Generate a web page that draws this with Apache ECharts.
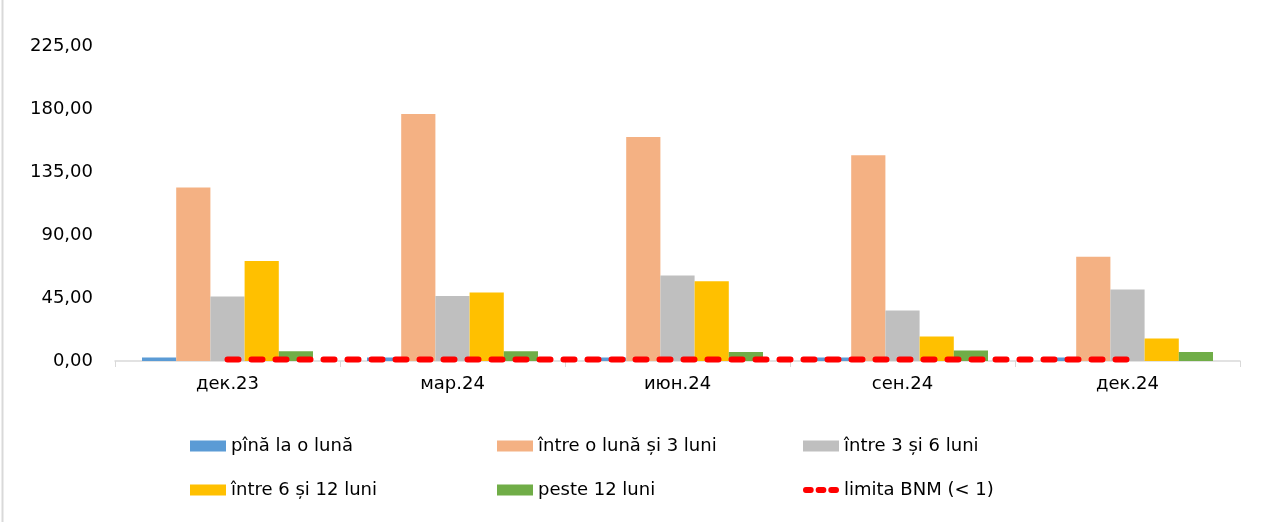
<!DOCTYPE html>
<html>
<head>
<meta charset="utf-8">
<script src="https://cdn.jsdelivr.net/npm/echarts@6/dist/echarts.min.js"></script>
<style>
  html, body { margin: 0; padding: 0; background: #fff; }
  #chart { width: 1267px; height: 522px; }
</style>
</head>
<body>
<div id="chart"></div>
<script>
// date
var categorii = ['дек.23', 'мар.24', 'июн.24', 'сен.24', 'дек.24'];
var pinaLaOLuna = [2.5, 2.5, 2.5, 2.5, 2.5];
var intre1si3 = [124, 176.5, 160, 147, 74.5];
var intre3si6 = [46, 46.5, 61, 36, 51];
var intre6si12 = [71.5, 49, 57, 17.5, 16];
var peste12 = [7, 7, 6.5, 7.5, 6.5];
var limitaBNM = [1, 1, 1, 1, 1];

var font = 'DejaVu Sans';
var myChart = echarts.init(document.getElementById('chart'));

// trei liniute rotunjite pentru legenda liniei
var dashIcon = 'path://M3,0h5a3,3 0 0 1 0,6h-5a3,3 0 0 1 0,-6z' +
    'M16,0h5a3,3 0 0 1 0,6h-5a3,3 0 0 1 0,-6z' +
    'M29,0h5a3,3 0 0 1 0,6h-5a3,3 0 0 1 0,-6z';

var legendBase = {
    orient: 'vertical',
    top: 432,
    icon: 'rect',
    itemWidth: 36,
    itemHeight: 11,
    itemGap: 26,
    textStyle: { fontFamily: font, fontSize: 18, color: '#000' }
};

myChart.setOption({
    animation: false,
    textStyle: { fontFamily: font },
    grid: { left: 115, right: 27, top: 46, bottom: 161 },
    legend: [
        Object.assign({}, legendBase, { left: 185, data: ['pînă la o lună', 'între 6 și 12 luni'] }),
        Object.assign({}, legendBase, { left: 492, data: ['între o lună și 3 luni', 'peste 12 luni'] }),
        Object.assign({}, legendBase, { left: 798, data: ['între 3 și 6 luni', { name: 'limita BNM (< 1)', icon: dashIcon }] })
    ],
    graphic: [{
        type: 'line',
        shape: { x1: 2.5, y1: 0, x2: 2.5, y2: 522 },
        style: { stroke: '#d9d9d9', lineWidth: 2 }
    }],
    xAxis: {
        type: 'category',
        data: categorii,
        axisLine: { lineStyle: { color: '#d9d9d9', width: 1.5 } },
        axisTick: { show: true, length: 6, lineStyle: { color: '#d9d9d9' } },
        axisLabel: { color: '#000', fontSize: 18, margin: 14 }
    },
    yAxis: {
        type: 'value',
        min: 0,
        max: 225,
        interval: 45,
        axisLine: { show: false },
        axisTick: { show: false },
        splitLine: { show: false },
        axisLabel: {
            color: '#000',
            fontSize: 18,
            margin: 22,
            formatter: function (v) { return v.toFixed(2).replace('.', ','); }
        }
    },
    series: [
        { name: 'pînă la o lună', type: 'bar', data: pinaLaOLuna, barGap: '0%', barCategoryGap: '24%', itemStyle: { color: '#5b9bd5' } },
        { name: 'între o lună și 3 luni', type: 'bar', data: intre1si3, itemStyle: { color: '#f4b183' } },
        { name: 'între 3 și 6 luni', type: 'bar', data: intre3si6, itemStyle: { color: '#bfbfbf' } },
        { name: 'între 6 și 12 luni', type: 'bar', data: intre6si12, itemStyle: { color: '#ffc000' } },
        { name: 'peste 12 luni', type: 'bar', data: peste12, itemStyle: { color: '#70ad47' } },
        {
            name: 'limita BNM (< 1)',
            type: 'line',
            data: limitaBNM,
            symbol: 'none',
            z: 10,
            itemStyle: { color: '#ff0000' },
            lineStyle: { color: '#ff0000', width: 6, type: [11, 13], cap: 'round' }
        }
    ]
});
</script>
</body>
</html>
